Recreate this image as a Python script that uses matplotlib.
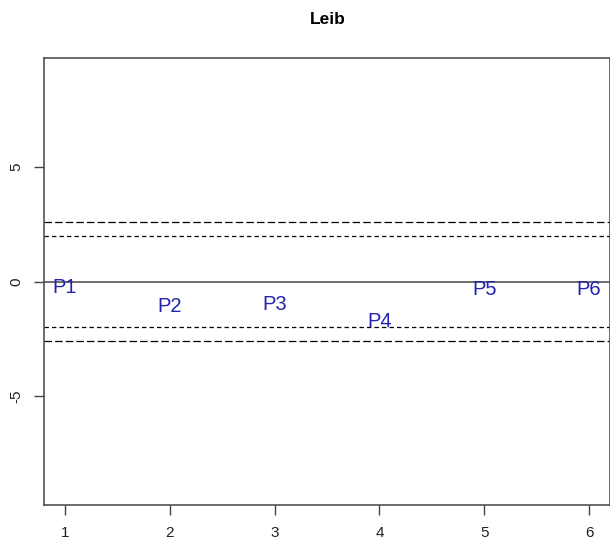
"""Leib: standardised residuals per point with 95% / 99% bands."""

import matplotlib

matplotlib.use("Agg")
import matplotlib.pyplot as plt

plt.rcParams["font.family"] = ["Liberation Sans", "DejaVu Sans"]

LABELS = ["P1", "P2", "P3", "P4", "P5", "P6"]
POSITIONS = [1, 2, 3, 4, 5, 6]
SCORES = [-0.17, -1.01, -0.90, -1.67, -0.24, -0.24]
BAND_95 = 1.96
BAND_99 = 2.58
Y_TICKS = [-5, 0, 5]

AXIS_GREY = "#444444"
TEXT_BLUE = "#2323b0"


def main():
    fig = plt.figure(figsize=(6.10, 5.44), dpi=100)
    ax = fig.add_axes([44 / 610, 1 - 505 / 544, 566 / 610, 447 / 544])

    ax.axhline(0, color="#555555", linewidth=1.2)
    for level in (BAND_95, -BAND_95):
        ax.axhline(level, color="black", linewidth=0.9, linestyle=(0, (3.5, 2.5)))
    for level in (BAND_99, -BAND_99):
        ax.axhline(level, color="black", linewidth=0.9, linestyle=(0, (6, 2.5)))

    for x, y, name in zip(POSITIONS, SCORES, LABELS):
        ax.text(x, y, name, color=TEXT_BLUE, fontsize=14.5, ha="center",
                va="center_baseline")

    ax.set_xlim(0.8, 6.2)
    ax.set_ylim(-9.72, 9.72)
    ax.set_xticks(POSITIONS)
    ax.set_yticks(Y_TICKS)
    ax.set_yticklabels([str(v) for v in Y_TICKS], rotation=90, va="center")
    ax.tick_params(axis="both", length=7, width=1, color=AXIS_GREY,
                   labelsize=11, labelcolor="#222222", pad=8)
    for spine in ax.spines.values():
        spine.set_color(AXIS_GREY)
        spine.set_linewidth(1.1)

    fig.text(328 / 610, 1 - 20 / 544, "Leib", ha="center", va="center",
             fontsize=12.5, fontweight="bold")

    fig.savefig("out.png", dpi=100)
    plt.close(fig)


if __name__ == "__main__":
    main()
